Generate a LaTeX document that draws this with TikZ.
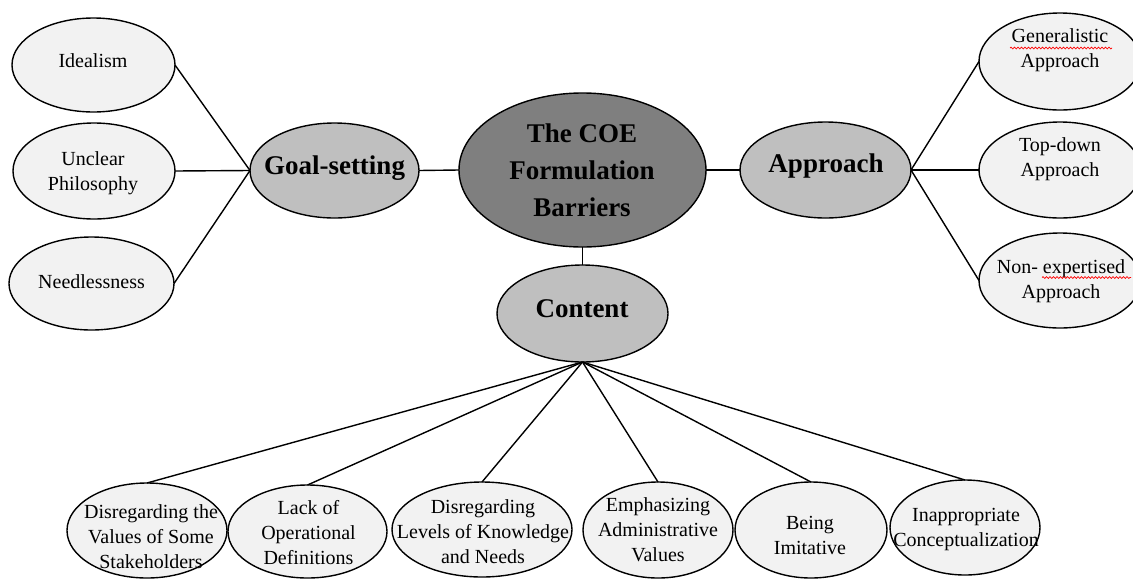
\documentclass[tikz,border=0pt]{standalone}
\usepackage{fontspec}
\setmainfont{Liberation Serif}
\usetikzlibrary{shapes.geometric,decorations.pathmorphing}
\definecolor{hubfill}{HTML}{7F7F7F}
\definecolor{catfill}{HTML}{BFBFBF}
\definecolor{leaffill}{HTML}{F2F2F2}
% empty ellipse of a given full width and height
\newcommand{\ellnode}[6]{\node[#2, minimum width=#5pt, minimum height=#6pt] (#1) at (#3,#4) {};}
\begin{document}
\begin{tikzpicture}[x=1pt,y=-1pt,
  oval/.style={ellipse, draw=black, line width=1.4pt, inner sep=0pt, outer sep=0pt},
  hub/.style={oval, fill=hubfill},
  cat/.style={oval, fill=catfill},
  leaf/.style={oval, fill=leaffill},
  leaftext/.style={align=center, inner sep=0pt, font=\fontsize{20}{25}\selectfont},
  cattext/.style={align=center, inner sep=0pt, font=\fontsize{27}{37}\selectfont\bfseries},
  link/.style={draw=black, line width=1.4pt},
  spell/.style={draw=red, line width=0.7pt, decorate,
    decoration={snake, amplitude=0.9pt, segment length=3.5pt}}
]
\path[use as bounding box] (0,0) rectangle (1133,579);
\clip (0,0) rectangle (1133,579);

% goal-setting branch
\ellnode{ideal}{leaf}{93.5}{65}{163}{94}
\node[leaftext] (t-ideal) at (93,61) {Idealism};
\ellnode{unclear}{leaf}{94}{171}{162}{96}
\node[leaftext] (t-unclear) at (93,173) {Unclear\\Philosophy};
\ellnode{needless}{leaf}{91.5}{283.5}{165}{93}
\node[leaftext] (t-needless) at (91.5,282) {Needlessness};
\ellnode{goal}{cat}{334.5}{170.5}{169}{95}
\node[cattext] (t-goal) at (334.5,168) {Goal-setting};

% centre
\ellnode{core}{hub}{582.5}{170}{247}{154}
\node[cattext] (t-core) at (582,170.5) {The COE\\Formulation\\Barriers};
\ellnode{content}{cat}{582.5}{313.5}{171}{97}
\node[cattext] (t-content) at (582,309) {Content};

% approach branch
\ellnode{appr}{cat}{825.5}{170}{171}{96}
\node[cattext] (t-appr) at (826,166) {Approach};
\ellnode{gen}{leaf}{1060}{61.5}{162}{97}
\node[leaftext] (t-gen) at (1060,50) {Generalistic\\Approach};
\ellnode{topdown}{leaf}{1060}{170}{162}{96}
\node[leaftext] (t-topdown) at (1060,159) {Top-down\\Approach};
\ellnode{nonexp}{leaf}{1060}{280.5}{162}{95}
\node[leaftext] (t-nonexp) at (1061,281) {Non- expertised\\Approach};

% content branch
\ellnode{b1}{leaf}{147}{530.5}{160}{95}
\node[leaftext] (t-b1) at (151,536.5) {Disregarding the\\Values of Some\\Stakeholders};
\ellnode{b2}{leaf}{307.5}{531.5}{159}{93}
\node[leaftext] (t-b2) at (308.5,533) {Lack of\\Operational\\Definitions};
\ellnode{b3}{leaf}{482}{529.5}{180}{95}
\node[leaftext] (t-b3) at (483,532) {Disregarding\\Levels of Knowledge\\and Needs};
\ellnode{b4}{leaf}{658}{530}{150}{96}
\node[leaftext] (t-b4) at (658,530) {Emphasizing\\Administrative\\Values};
\ellnode{b5}{leaf}{811}{530}{152}{96}
\node[leaftext] (t-b5) at (810,535) {Being\\Imitative};
\ellnode{b6}{leaf}{965}{527.5}{150}{95}
\node[leaftext] (t-b6) at (966,529.5) {Inappropriate\\Conceptualization};

% connectors
\draw[link] (ideal.east) -- (goal.west);
\draw[link] (unclear.east) -- (goal.west);
\draw[link] (needless.east) -- (goal.west);
\draw[link] (goal.east) -- (core.west);
\draw[link] (core.east) -- (appr.west);
\draw[link] (core.south) -- (content.north);
\draw[link] (appr.east) -- (gen.west);
\draw[link] (appr.east) -- (topdown.west);
\draw[link] (appr.east) -- (nonexp.west);
\foreach \b in {b1,b2,b3,b4,b5,b6}
  \draw[link] (content.south) -- (\b.north);

% spelling marks under two words
\draw[spell] (1010,48) -- (1112,48);
\draw[spell] (1042,277.5) -- (1131,277.5);
\end{tikzpicture}
\end{document}
